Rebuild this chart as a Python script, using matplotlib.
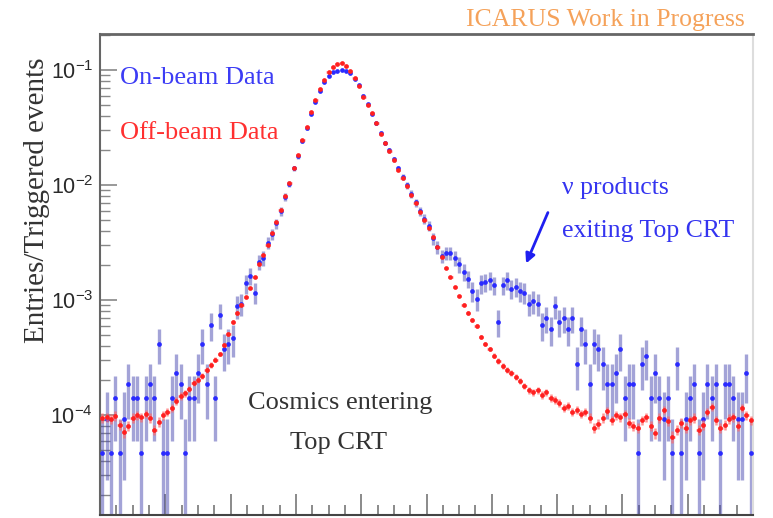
import matplotlib
matplotlib.use('Agg')
import matplotlib.pyplot as plt
from matplotlib.ticker import MultipleLocator, LogLocator, NullFormatter
import numpy as np

# histogram: 150 bins, no axis title on x (cut off in the original)
n_bins = 150
bin_idx = np.arange(n_bins)

# triggered events used to normalise each sample
n_trig_on = 21550.0
n_trig_off = 1.25e6

# on-beam entries per bin
on_counts = [
    1, 2, 1, 3, 1, 2, 4, 3, 3, 1, 3, 4, 3, 9, 1, 1, 3, 5, 4, 1,
    3, 3, 5, 9, 4, 13, 3, 16, 8, 9, 10, 19, 20, 30, 35, 25, 46, 50, 68, 80,
    100, 128, 170, 220, 300, 385, 520, 670, 900, 1140, 1420, 1690, 1930, 2060, 2120, 2150, 2130, 2020, 1800, 1580,
    1290, 1080, 900, 740, 610, 500, 430, 360, 300, 255, 215, 180, 152, 128, 110, 95, 74, 62, 52, 55,
    55, 50, 44, 38, 33, 26, 22, 30, 31, 32, 29, 14, 29, 32, 27, 28, 26, 25, 20, 21,
    20, 13, 15, 12, 19, 14, 15, 12, 15, 6, 12, 9, 4, 9, 8, 6, 4, 4, 5, 8,
    3, 4, 4, 1, 6, 7, 3, 5, 3, 2, 3, 1, 6, 1, 2, 3, 4, 1, 2, 4,
    3, 4, 1, 4, 4, 3, 2, 2, 5, 1]

# off-beam entries per bin
off_counts = [
    118, 120, 116, 123, 102, 89, 100, 118, 125, 120, 128, 118, 93, 109, 125, 133, 144, 166, 183, 194,
    211, 238, 252, 273, 308, 341, 377, 425, 508, 634, 806, 965, 1132, 1329, 1591, 1983, 2573, 3082, 3765, 4786,
    5966, 7586, 10040, 13025, 17590, 22820, 30820, 39960, 53970, 68620, 85550, 102400, 120200, 132900, 141100, 144000, 135600, 122700, 106600, 90850,
    72900, 62100, 52900, 43300, 34740, 29010, 24720, 20640, 16900, 14400, 12270, 10240, 8729, 7290, 6209, 5290, 4418, 3617, 2960, 2376,
    1983, 1623, 1356, 1132, 965, 839, 744, 597, 519, 469, 408, 369, 334, 308, 290, 268, 247, 224, 206, 198,
    206, 187, 198, 176, 169, 159, 144, 150, 133, 138, 128, 133, 118, 97, 105, 118, 136, 113, 125, 120,
    128, 107, 100, 97, 113, 120, 100, 87, 118, 138, 111, 81, 93, 107, 97, 113, 118, 93, 102, 133,
    147, 113, 97, 102, 116, 120, 100, 144, 125, 113]

on_counts = np.array(on_counts, dtype=float)
off_counts = np.array(off_counts, dtype=float)

on_val = on_counts / n_trig_on
on_err = np.sqrt(on_counts) / n_trig_on
off_val = off_counts / n_trig_off
off_err = np.sqrt(off_counts) / n_trig_off

x = bin_idx + 0.5

fig = plt.figure(figsize=(7.73, 5.18), dpi=100)
ax = fig.add_axes([100/773, 3/518, 653/773, 481/518])

# on-beam (blue) - drawn first, off-beam on top
lo = np.minimum(on_err, on_val - 1e-9)
ax.errorbar(x, on_val, yerr=[lo, on_err], fmt='none', ecolor='#4848b0',
            elinewidth=2.4, alpha=0.5, zorder=2)
ax.plot(x, on_val, 'o', color='#2a2aff', markersize=3.4, mew=0, zorder=3)

ax.errorbar(x, off_val, yerr=off_err, xerr=0.5, fmt='none', ecolor='#ff6a6a',
            elinewidth=1.8, alpha=0.7, zorder=4)
ax.plot(x, off_val, 'o', color='#ff2020', markersize=3.4, mew=0, zorder=5)

ax.set_yscale('log')
ax.set_ylim(1.35e-5, 0.2056)
ax.set_xlim(0, n_bins)

ax.xaxis.set_major_locator(MultipleLocator(15))
ax.xaxis.set_minor_locator(MultipleLocator(3.75))
ax.yaxis.set_major_locator(LogLocator(base=10, numticks=10))
ax.yaxis.set_minor_locator(LogLocator(base=10, subs=np.arange(2, 10), numticks=10))
ax.yaxis.set_minor_formatter(NullFormatter())
ax.tick_params(axis='x', which='both', direction='in', labelbottom=False, color='#777777')
ax.tick_params(axis='x', which='major', length=15, width=1.2)
ax.tick_params(axis='x', which='minor', length=7, width=1.2)
ax.tick_params(axis='y', which='both', direction='in', color='#888888', labelsize=15.5,
               labelcolor='#2a2a2a', pad=5)
ax.tick_params(axis='y', which='major', length=12, width=1.2)
ax.tick_params(axis='y', which='minor', length=7, width=1.0)
for lab in ax.get_yticklabels():
    lab.set_family('Liberation Sans')

ax.spines['top'].set_color('#666666')
ax.spines['top'].set_linewidth(2)
ax.spines['left'].set_color('#666666')
ax.spines['left'].set_linewidth(1.5)
ax.spines['bottom'].set_color('#444444')
ax.spines['bottom'].set_linewidth(1.5)
ax.spines['right'].set_color('#dddddd')
ax.spines['right'].set_linewidth(1.5)

serif = 'Liberation Serif'
fig.text(37/773, 1 - 200/518, 'Entries/Triggered events', rotation=90, ha='center', va='center',
         family=serif, fontsize=21, color='#333333')
fig.text(120/773, 1 - 78/518, 'On-beam Data', ha='left', va='center', family=serif,
         fontsize=19, color='#3c3cf5')
fig.text(120/773, 1 - 133/518, 'Off-beam Data', ha='left', va='center', family=serif,
         fontsize=19, color='#ff3030')
fig.text(745/773, 1 - 20/518, 'ICARUS Work in Progress', ha='right', va='center', family=serif,
         fontsize=18.5, color='#f5a25a')
fig.text(562/773, 1 - 188/518, 'ν products', ha='left', va='center', family=serif,
         fontsize=18.5, color='#3434f0')
fig.text(562/773, 1 - 231/518, 'exiting Top CRT', ha='left', va='center', family=serif,
         fontsize=18.5, color='#3434f0')
fig.text(340/773, 1 - 403/518, 'Cosmics entering', ha='center', va='center', family=serif,
         fontsize=19, color='#333333')
fig.text(339/773, 1 - 443/518, 'Top CRT', ha='center', va='center', family=serif,
         fontsize=19, color='#333333')

fig.add_artist(matplotlib.patches.FancyArrowPatch(
    (549/773, 1 - 210/518), (525/773, 1 - 266/518), transform=fig.transFigure,
    arrowstyle='-|>', mutation_scale=14, color='#1f1ff0', linewidth=2))

fig.savefig('out.png', dpi=100)
